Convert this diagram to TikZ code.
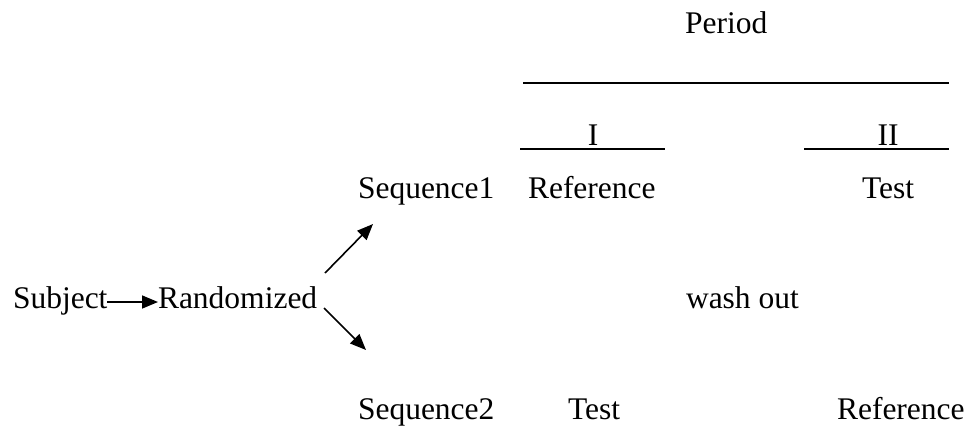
\documentclass[tikz,border=0pt]{standalone}
\usepackage{fontspec}
\setmainfont{Liberation Serif}
\usetikzlibrary{arrows.meta,calc}
\begin{document}
\begin{tikzpicture}[x=1pt,y=-1pt,
  lbl/.style={inner sep=0pt,outer sep=0pt,anchor=base west,font=\fontsize{31.5}{36}\selectfont},
  clbl/.style={lbl,anchor=base},
  rule/.style={line width=1.6pt},
  arr/.style={line width=1.6pt,-{Triangle[length=16pt,width=13pt]}}]
\useasboundingbox (0,0) rectangle (973,429);
\node[lbl] (period) at (685,33) {Period};
\node[clbl] (p1) at (593,145) {I};
\node[clbl] (p2) at (888,145) {II};
\coordinate (lA) at (523,83); \coordinate (lB) at (949,83);
\coordinate (iA) at (520,149); \coordinate (iB) at (665,149);
\coordinate (jA) at (804,149); \coordinate (jB) at (949,149);
\draw[rule] (lA) -- (lB);
\draw[rule] (iA) -- (iB);
\draw[rule] (jA) -- (jB);
\node[lbl] (seq1) at (358,198) {Sequence1};
\node[lbl] (ref1) at (528,198) {Reference};
\node[lbl] (test1) at (862,198) {Test};
\node[lbl] (subj) at (13,308) {Subject};
\node[lbl] (rand) at (158,308) {Randomized};
\node[lbl] (wash) at (686,308) {wash out};
\node[lbl] (seq2) at (358,419) {Sequence2};
\node[lbl] (test2) at (568,419) {Test};
\node[lbl] (ref2) at (837,419) {Reference};
\draw[arr] (subj.base east |- 0,302) -- (rand.base west |- 0,302);
\coordinate (u0) at (325,273); \coordinate (u1) at (373,224);
\coordinate (d0) at (324,308); \coordinate (d1) at (366,350);
\draw[arr] (u0) -- (u1);
\draw[arr] (d0) -- (d1);
\end{tikzpicture}
\end{document}
